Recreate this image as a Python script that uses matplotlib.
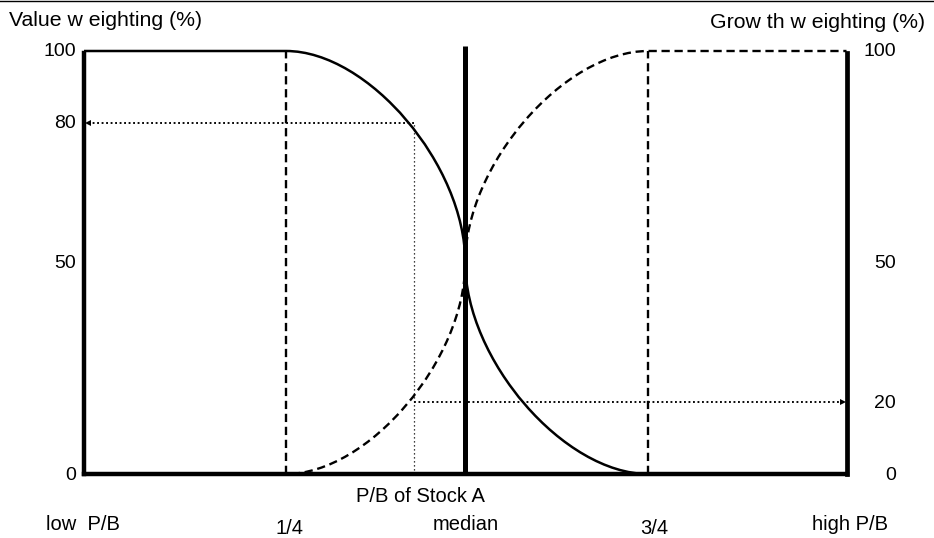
import matplotlib
matplotlib.use("Agg")
import matplotlib.pyplot as plt
from matplotlib.path import Path
from matplotlib.patches import PathPatch
from matplotlib.lines import Line2D

plt.rcParams['font.family'] = ['Liberation Sans', 'DejaVu Sans']

# ---------------- data ----------------
pb_positions = [0.0, 0.265, 0.5, 0.74, 1.0]          # low, 1/4, median, 3/4, high
pb_labels = ["low  P/B", "1/4", "median", "3/4", "high P/B"]
weight_ticks = [0, 50, 100]
weight_tick_labels = ["0", "50", "100"]
value_curve_y = [100, 100, 50, 0, 0]
growth_curve_y = [0, 0, 50, 100, 100]
stock_a_pb = 0.433
stock_a_value_weight = 83
stock_a_growth_weight = 17
stock_a_value_label = "80"
stock_a_growth_label = "20"
median_line_top = 101.3

# ---------------- figure ----------------
W, H = 934, 538
fig = plt.figure(figsize=(W / 100, H / 100), dpi=100)
ax_l, ax_r, ax_b, ax_t = 84, 846.5, 474, 51
ax = fig.add_axes([ax_l / W, 1 - ax_b / H, (ax_r - ax_l) / W, (ax_b - ax_t) / H])
ax.set_xlim(pb_positions[0], pb_positions[-1])
ax.set_ylim(weight_ticks[0], weight_ticks[-1])
ax.axis('off')

TENSION = 0.46


def step_curve(xs, ys, k):
    verts = [(xs[0], ys[0]), (xs[1], ys[1])]
    codes = [Path.MOVETO, Path.LINETO]
    verts += [(xs[1] + k * (xs[2] - xs[1]), ys[1]),
              (xs[2], ys[2] + k * (ys[1] - ys[2])),
              (xs[2], ys[2])]
    verts += [(xs[2], ys[2] + k * (ys[3] - ys[2])),
              (xs[3] - k * (xs[3] - xs[2]), ys[3]),
              (xs[3], ys[3])]
    verts += [(xs[4], ys[4])]
    codes += [Path.CURVE4] * 6 + [Path.LINETO]
    return Path(verts, codes)


dash = (0, (3.5, 2.0))
# value (solid) and growth (dashed) weighting curves
ax.add_patch(PathPatch(step_curve(pb_positions, value_curve_y, TENSION), fill=False,
                       lw=1.8, ec='black', clip_on=False, zorder=3,
                       capstyle='butt'))
ax.add_patch(PathPatch(step_curve(pb_positions, growth_curve_y, TENSION), fill=False,
                       lw=1.7, ec='black', ls=dash, clip_on=False, zorder=3,
                       capstyle='butt'))

# quartile dashed verticals
for q in (pb_positions[1], pb_positions[3]):
    ax.plot([q, q], [weight_ticks[0], weight_ticks[-1]], color='black', lw=1.7, ls=dash,
            clip_on=False, zorder=3, solid_capstyle='butt', dash_capstyle='butt')

# thick frame lines
thick = dict(color='black', solid_capstyle='projecting', clip_on=False, zorder=5)
ax.plot([pb_positions[0], pb_positions[-1]], [0, 0], lw=3.2, **thick)
ax.plot([pb_positions[0]] * 2, [0, 99.5], lw=3.2, **thick)
ax.plot([pb_positions[-1]] * 2, [0, 99.5], lw=3.4, **thick)
ax.plot([pb_positions[2]] * 2, [0, median_line_top], lw=3.6, color='black',
        solid_capstyle='butt', clip_on=False, zorder=5)

# Stock A dotted guides
ax.plot([stock_a_pb, stock_a_pb], [0, stock_a_value_weight], color='black', lw=0.9,
        ls=(0, (1, 2.2)), clip_on=False, zorder=2)
dot = (0, (1, 1.4))
ax.plot([stock_a_pb, 0.005], [stock_a_value_weight] * 2, color='black', lw=1.35, ls=dot,
        clip_on=False, zorder=2)
ax.plot([0.005], [stock_a_value_weight], marker='<', ms=4.5, color='black', mew=0,
        clip_on=False, zorder=4)
ax.plot([stock_a_pb, 0.995], [stock_a_growth_weight] * 2, color='black', lw=1.35, ls=dot,
        clip_on=False, zorder=2)
ax.plot([0.995], [stock_a_growth_weight], marker='>', ms=4.5, color='black', mew=0,
        clip_on=False, zorder=4)

FS_TICK = 14
FS_LAB = 14.5
FS_TITLE = 15.3

# y tick labels (both sides)
left_pos = weight_ticks + [stock_a_value_weight]
left_lab = weight_tick_labels + [stock_a_value_label]
right_pos = weight_ticks + [stock_a_growth_weight]
right_lab = weight_tick_labels + [stock_a_growth_label]
for y, s in zip(left_pos, left_lab):
    ax.annotate(s, xy=(0, y), xycoords=('axes fraction', 'data'), xytext=(-8, -1),
                textcoords='offset pixels', ha='right', va='center', fontsize=FS_TICK)
for y, s in zip(right_pos, right_lab):
    ax.annotate(s, xy=(1, y), xycoords=('axes fraction', 'data'), xytext=(49.5, -1),
                textcoords='offset pixels', ha='right', va='center', fontsize=FS_TICK)

# x labels
x_offsets = [(-1, -51), (3, -54), (0, -51), (6, -54), (3, -51)]
for x, s, (dx, dy) in zip(pb_positions, pb_labels, x_offsets):
    ax.annotate(s, xy=(x, 0), xycoords='data', xytext=(dx, dy),
                textcoords='offset pixels', ha='center', va='center', fontsize=FS_LAB)

ax.annotate("P/B of Stock A", xy=(stock_a_pb, 0), xycoords='data', xytext=(6, -23),
            textcoords='offset pixels', ha='center', va='center', fontsize=FS_LAB)

# axis titles
fig.text(9 / W, 1 - 20 / H, "Value w eighting (%)", ha='left', va='center', fontsize=FS_TITLE)
fig.text(925 / W, 1 - 22 / H, "Grow th w eighting (%)", ha='right', va='center', fontsize=FS_TITLE)

# top border line
fig.add_artist(Line2D([0, 1], [1 - 0.6 / H] * 2, transform=fig.transFigure,
                      color='black', lw=1.0))

fig.savefig("out.png", dpi=100)
